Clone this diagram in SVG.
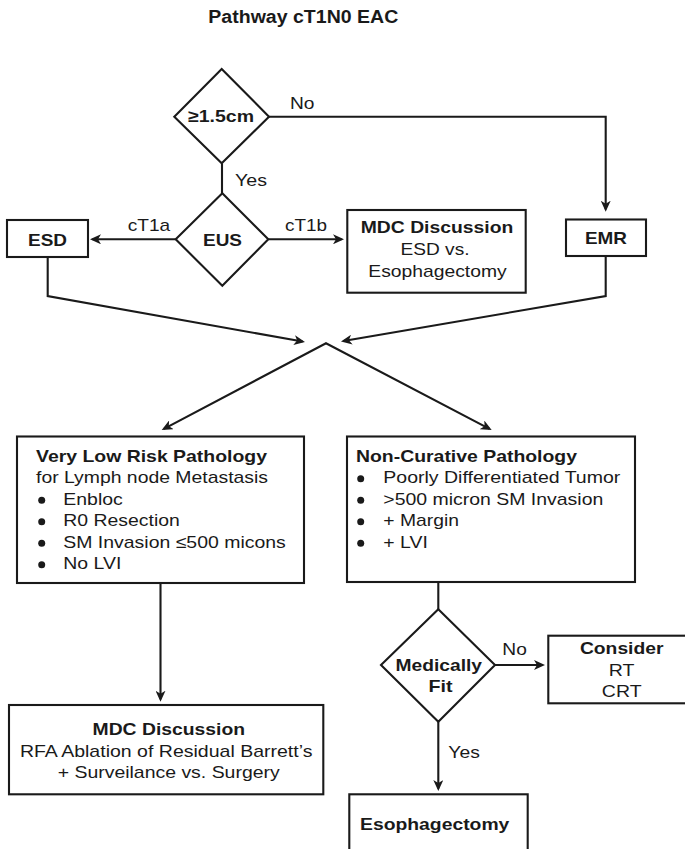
<svg xmlns="http://www.w3.org/2000/svg" width="685" height="849" viewBox="0 0 685 849">
<style>
  .bg { fill: #ffffff; }
  .box { fill: #ffffff; stroke: #1a1a1a; stroke-width: 2.1; }
  .line { fill: none; stroke: #1a1a1a; stroke-width: 2.1; stroke-linejoin: miter; }
  .arrow { marker-end: url(#ah); }
  text { font-family: "Liberation Sans", Arial, Helvetica, sans-serif; font-size: 17px; fill: #1a1a1a; }
  .b { font-weight: bold; }
  .m { text-anchor: middle; }
  .title { font-size: 18px; font-weight: bold; text-anchor: middle; }
  .dot { fill: #1a1a1a; }
</style>
<defs>
  <marker id="ah" viewBox="0 0 11 10" refX="8.5" refY="5" markerWidth="11" markerHeight="10" markerUnits="userSpaceOnUse" orient="auto-start-reverse">
    <path d="M0,0 L11,5 L0,10 L3,5 z" fill="#1a1a1a"/>
  </marker>
</defs>
<rect class="bg" x="0" y="0" width="685" height="849"/>

<text id="title" class="title" x="303.3" y="22.7" textLength="190" lengthAdjust="spacingAndGlyphs">Pathway cT1N0 EAC</text>

<g id="connectors">
  <path class="line arrow" d="M269,116.7 L605.7,116.7 L605.7,209.2"/>
  <path class="line" d="M222,163.3 L222,193.3"/>
  <path class="line arrow" d="M175.7,239.3 L92.5,239.3"/>
  <path class="line arrow" d="M268.3,239.3 L341.5,239.3"/>
  <path class="line arrow" d="M47.7,257 L47.7,296 L302.54,341.56"/>
  <path class="line arrow" d="M605.7,256 L605.7,296 L343.46,341.08"/>
  <path class="line" marker-start="url(#ah)" marker-end="url(#ah)" d="M163.91,428.83 L326,343.3 L489.48,428.84"/>
  <path class="line arrow" d="M160.5,583 L160.5,699.2"/>
  <path class="line" d="M438.3,581.7 L438.3,609.3"/>
  <path class="line arrow" d="M495,665 L542.5,665"/>
  <path class="line arrow" d="M438.3,721.7 L438.3,788.5"/>
  <text x="290" y="109.3" textLength="24.5" lengthAdjust="spacingAndGlyphs">No</text>
  <text x="235" y="186" textLength="32" lengthAdjust="spacingAndGlyphs">Yes</text>
  <text x="127.7" y="231" textLength="42.5" lengthAdjust="spacingAndGlyphs">cT1a</text>
  <text x="285" y="231" textLength="42" lengthAdjust="spacingAndGlyphs">cT1b</text>
  <text x="502.3" y="655" textLength="24.5" lengthAdjust="spacingAndGlyphs">No</text>
  <text x="448.3" y="758.3" textLength="31.5" lengthAdjust="spacingAndGlyphs">Yes</text>
</g>

<g id="size-decision">
  <polygon class="box" points="221.7,69 269,116.7 221.7,163.3 174.3,116.7"/>
  <text class="b m" x="221" y="121.7" textLength="66" lengthAdjust="spacingAndGlyphs">≥1.5cm</text>
</g>

<g id="eus">
  <polygon class="box" points="222.3,193.3 268.3,239.3 222.3,285.7 175.7,239.3"/>
  <text class="b m" x="222.5" y="245.7" textLength="39" lengthAdjust="spacingAndGlyphs">EUS</text>
</g>

<g id="esd">
  <rect class="box" x="7" y="220" width="81" height="37"/>
  <text class="b m" x="47.5" y="245.7" textLength="39" lengthAdjust="spacingAndGlyphs">ESD</text>
</g>

<g id="mdc-top">
  <rect class="box" x="347.3" y="210" width="178.4" height="82.7"/>
  <text class="b m" x="437" y="233.3" textLength="152.5" lengthAdjust="spacingAndGlyphs">MDC Discussion</text>
  <text class="m" x="435" y="255" textLength="69" lengthAdjust="spacingAndGlyphs">ESD vs.</text>
  <text class="m" x="437.5" y="276.7" textLength="138.4" lengthAdjust="spacingAndGlyphs">Esophagectomy</text>
</g>

<g id="emr">
  <rect class="box" x="566" y="219.5" width="80" height="36.5"/>
  <text class="b m" x="606" y="244" textLength="42" lengthAdjust="spacingAndGlyphs">EMR</text>
</g>

<g id="very-low-risk">
  <rect class="box" x="17" y="436.5" width="287" height="146.5"/>
  <text class="b" x="36" y="461.5" textLength="231" lengthAdjust="spacingAndGlyphs">Very Low Risk Pathology</text>
  <text x="36" y="483" textLength="232" lengthAdjust="spacingAndGlyphs">for Lymph node Metastasis</text>
  <circle class="dot" cx="41.7" cy="500.3" r="3.5"/>
  <text x="63.3" y="504.5" textLength="59.5" lengthAdjust="spacingAndGlyphs">Enbloc</text>
  <circle class="dot" cx="41.7" cy="521.8" r="3.5"/>
  <text x="63.3" y="526" textLength="116.5" lengthAdjust="spacingAndGlyphs">R0 Resection</text>
  <circle class="dot" cx="41.7" cy="543.3" r="3.5"/>
  <text x="63.3" y="547.5" textLength="222.5" lengthAdjust="spacingAndGlyphs">SM Invasion ≤500 micons</text>
  <circle class="dot" cx="41.7" cy="564.8" r="3.5"/>
  <text x="63.3" y="569" textLength="58" lengthAdjust="spacingAndGlyphs">No LVI</text>
</g>

<g id="non-curative">
  <rect class="box" x="347" y="436.5" width="288" height="145.5"/>
  <text class="b" x="356" y="461.5" textLength="221" lengthAdjust="spacingAndGlyphs">Non-Curative Pathology</text>
  <circle class="dot" cx="360.7" cy="478.8" r="3.5"/>
  <text x="383.3" y="483" textLength="237" lengthAdjust="spacingAndGlyphs">Poorly Differentiated Tumor</text>
  <circle class="dot" cx="360.7" cy="500.3" r="3.5"/>
  <text x="383.3" y="504.5" textLength="220" lengthAdjust="spacingAndGlyphs">&gt;500 micron SM Invasion</text>
  <circle class="dot" cx="360.7" cy="521.8" r="3.5"/>
  <text x="383.3" y="526" textLength="75.7" lengthAdjust="spacingAndGlyphs">+ Margin</text>
  <circle class="dot" cx="360.7" cy="543.3" r="3.5"/>
  <text x="383.3" y="547.5" textLength="44.5" lengthAdjust="spacingAndGlyphs">+ LVI</text>
</g>

<g id="mdc-bottom">
  <rect class="box" x="9" y="705" width="314.3" height="89.3"/>
  <text class="b m" x="168.8" y="735" textLength="152.5" lengthAdjust="spacingAndGlyphs">MDC Discussion</text>
  <text class="m" x="166.2" y="756.7" textLength="292.5" lengthAdjust="spacingAndGlyphs">RFA Ablation of Residual Barrett’s</text>
  <text class="m" x="168.7" y="778.3" textLength="222" lengthAdjust="spacingAndGlyphs">+ Surveilance vs. Surgery</text>
</g>

<g id="medically-fit">
  <polygon class="box" points="438.3,609.3 495,665 438.3,721.7 381,665"/>
  <text class="b m" x="438.8" y="671" textLength="86.5" lengthAdjust="spacingAndGlyphs">Medically</text>
  <text class="b m" x="440.5" y="691.7" textLength="24" lengthAdjust="spacingAndGlyphs">Fit</text>
</g>

<g id="consider">
  <rect class="box" x="548.3" y="635.7" width="160" height="67.6"/>
  <text class="b m" x="621.7" y="654.3" textLength="83.5" lengthAdjust="spacingAndGlyphs">Consider</text>
  <text class="m" x="621.7" y="676" textLength="25.7" lengthAdjust="spacingAndGlyphs">RT</text>
  <text class="m" x="621.7" y="697.3" textLength="39.7" lengthAdjust="spacingAndGlyphs">CRT</text>
</g>

<g id="esophagectomy">
  <rect class="box" x="349.3" y="794.3" width="178.4" height="80"/>
  <text class="b m" x="434.7" y="830" textLength="149.3" lengthAdjust="spacingAndGlyphs">Esophagectomy</text>
</g>
</svg>
